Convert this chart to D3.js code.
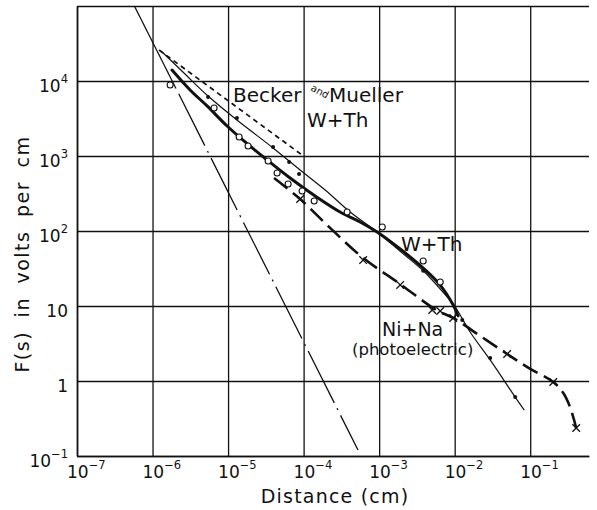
<!DOCTYPE html>
<html>
<head>
<meta charset="utf-8">
<script src="https://cdn.jsdelivr.net/npm/d3@7"></script>
<style>
  body { margin: 0; background: #fff; }
  svg { display: block; }
</style>
</head>
<body>
<svg id="chart"></svg>
<script>
/* F(s) versus distance, log-log, redrawn with d3. */
var xTicks = [1e-7, 1e-6, 1e-5, 1e-4, 1e-3, 1e-2, 1e-1];
var xTickExp = ["\u22127", "\u22126", "\u22125", "\u22124", "\u22123", "\u22122", "\u22121"];
var yTicks = [0.1, 1, 10, 100, 1e3, 1e4, 1e5];
var yTickBase = ["10", "1", "10", "10", "10", "10", ""];
var yTickExp = ["\u22121", "", "", "2", "3", "4", ""];

// steep image-force line (solid start, then dash-dot)
var imageS = [5.75e-7, 1.99e-6, 5.25e-4];
var imageF = [1e5, 8400, 0.12];

// heavy solid curve, W+Th
var thickS = [1.81e-6, 3.14e-6, 5.27e-6, 9.7e-6, 1.68e-5, 3.29e-5, 6.62e-5, 1.42e-4, 3.04e-4, 5.6e-4, 9.4e-4, 1.9e-3, 3.83e-3, 6.43e-3, 9.55e-3, 1.11e-2];
var thickF = [14000, 7590, 4650, 2510, 1540, 885, 509, 293, 179, 132, 97, 57.5, 32, 19, 10.3, 7.4];

// thin solid curve with small filled points
var thinS = [1.34e-6, 2.69e-6, 5.43e-6, 1.31e-5, 3.94e-5, 8.99e-5, 1.93e-4, 4.13e-4, 9.4e-4, 1.9e-3, 3.83e-3, 7.48e-3, 1e-2, 1.6e-2, 2.95e-2, 6.32e-2, 8.34e-2];
var thinF = [24400, 12400, 6310, 3020, 1280, 650, 352, 179, 97, 53.5, 29.5, 14.2, 10, 4.5, 1.91, 0.61, 0.41];
var dotS = [5.43e-6, 1.31e-5, 3.94e-5, 6.43e-5, 8.7e-5, 3.83e-3, 1.26e-2, 2.95e-2, 6.32e-2];
var dotF = [6120, 3210, 1320, 832, 575, 29.5, 6.5, 2.03, 0.61];

// Becker and Mueller, W+Th (short dashes)
var beckerS = [1.22e-6, 9.55e-5];
var beckerF = [25900, 1030];

// open circles, W+Th measurements
var circleS = [1.71e-6, 6.53e-6, 1.4e-5, 1.84e-5, 3.39e-5, 4.46e-5, 6.24e-5, 9.55e-5, 1.38e-4, 3.77e-4, 1.1e-3, 3.83e-3, 6.43e-3];
var circleF = [8850, 4370, 1790, 1360, 858, 593, 424, 341, 251, 179, 113, 39.8, 20.9];

// Ni+Na (photoelectric), heavy dashes and crosses
var niS = [4.06e-5, 8.99e-5, 2.24e-4, 6.14e-4, 1.9e-3, 5.69e-3, 9.55e-3, 2.18e-2, 4.95e-2, 0.1, 0.202, 0.274, 0.339, 0.406];
var niF = [509, 267, 110, 43.7, 19.6, 8.85, 6.92, 3.98, 2.29, 1.45, 0.97, 0.69, 0.44, 0.236];
var crossS = [8.99e-5, 6.14e-4, 1.9e-3, 5.04e-3, 6.43e-3, 9.55e-3, 4.95e-2, 0.202, 0.406];
var crossF = [267, 41, 19.1, 8.85, 8.58, 6.92, 2.29, 0.97, 0.236];

var W = 597, H = 510;
var ink = "#111";

var x = d3.scaleLog().domain([1e-7, 0.6]).range([77, 589]);
var y = d3.scaleLog().domain([0.1, 1e5]).range([456, 6]);

var svg = d3.select("#chart").attr("width", W).attr("height", H)
  .attr("viewBox", [0, 0, W, H]);
svg.append("rect").attr("width", W).attr("height", H).attr("fill", "#fff");

function zip(a, b) {
  return a.map(function (v, i) { return [v, b[i]]; });
}

// grid via axes
var gx = svg.append("g")
  .attr("transform", "translate(0," + y.range()[0] + ")")
  .call(d3.axisBottom(x).tickValues(xTicks).tickFormat("")
    .tickSize(-(y.range()[0] - y.range()[1])).tickSizeOuter(0));
var gy = svg.append("g")
  .attr("transform", "translate(" + x.range()[0] + ",0)")
  .call(d3.axisLeft(y).tickValues(yTicks).tickFormat("")
    .tickSize(-(x.range()[1] - x.range()[0])).tickSizeOuter(0));
[gx, gy].forEach(function (g) {
  g.selectAll("line").attr("stroke", ink).attr("stroke-width", 1.3);
  g.select(".domain").attr("stroke", ink).attr("stroke-width", 1.6);
});

var labelFont = "'DejaVu Sans', sans-serif";

// x tick labels
var xl = svg.append("g").attr("font-family", labelFont).attr("fill", ink);
xTicks.forEach(function (t, i) {
  var tx = xl.append("text").attr("x", x(t) - 10).attr("y", 478)
    .attr("font-size", 17);
  tx.append("tspan").text("10");
  tx.append("tspan").attr("dy", -9).attr("font-size", 11.5).text(xTickExp[i]);
});

// y tick labels
var yl = svg.append("g").attr("font-family", labelFont).attr("fill", ink);
yTicks.forEach(function (t, i) {
  if (!yTickBase[i]) return;
  var tx = yl.append("text").attr("x", 68).attr("y", y(t) + 11)
    .attr("text-anchor", "end").attr("font-size", 17);
  tx.append("tspan").text(yTickBase[i]);
  if (yTickExp[i]) {
    tx.append("tspan").attr("dy", -9).attr("font-size", 11.5).text(yTickExp[i]);
  }
});

// axis titles
svg.append("text")
  .attr("x", 335).attr("y", 503)
  .attr("text-anchor", "middle")
  .attr("font-family", labelFont).attr("font-size", 19)
  .attr("letter-spacing", 1.2).attr("fill", ink)
  .text("Distance (cm)");
svg.append("text")
  .attr("transform", "translate(29,254) rotate(-90)")
  .attr("text-anchor", "middle")
  .attr("font-family", labelFont).attr("font-size", 19)
  .attr("letter-spacing", 1.5).attr("word-spacing", 6).attr("fill", ink)
  .text("F(s) in volts per cm");

var line = d3.line()
  .x(function (d) { return x(d[0]); })
  .y(function (d) { return y(d[1]); });
var smooth = d3.line()
  .x(function (d) { return x(d[0]); })
  .y(function (d) { return y(d[1]); })
  .curve(d3.curveCatmullRom.alpha(0.5));

var plot = svg.append("g").attr("fill", "none").attr("stroke", ink);

var img = zip(imageS, imageF);
plot.append("path").attr("d", line(img.slice(0, 2))).attr("stroke-width", 1.3);
plot.append("path").attr("d", line(img.slice(1)))
  .attr("stroke-width", 1.3).attr("stroke-dasharray", "58,6,2,6")
  .attr("stroke-dashoffset", -8);

plot.append("path").attr("d", line(zip(beckerS, beckerF)))
  .attr("stroke-width", 1.7).attr("stroke-dasharray", "5,4");

plot.append("path").attr("d", smooth(zip(thinS, thinF))).attr("stroke-width", 1.2);

plot.append("path").attr("d", smooth(zip(thickS, thickF)))
  .attr("stroke-width", 3).attr("stroke-linecap", "round");

plot.append("path").attr("d", smooth(zip(niS, niF)))
  .attr("stroke-width", 2.6).attr("stroke-dasharray", "17,7");

// markers
svg.append("g").selectAll("circle.dot")
  .data(zip(dotS, dotF)).join("circle")
  .attr("cx", function (d) { return x(d[0]); })
  .attr("cy", function (d) { return y(d[1]); })
  .attr("r", 2).attr("fill", ink);

svg.append("g").selectAll("circle.open")
  .data(zip(circleS, circleF)).join("circle")
  .attr("cx", function (d) { return x(d[0]); })
  .attr("cy", function (d) { return y(d[1]); })
  .attr("r", 3).attr("fill", "#fff").attr("stroke", ink).attr("stroke-width", 1.1);

svg.append("g").selectAll("path.cross")
  .data(zip(crossS, crossF)).join("path")
  .attr("d", function (d) {
    var cx = x(d[0]), cy = y(d[1]), r = 3.8;
    return "M" + (cx - r) + "," + (cy - r) + "L" + (cx + r) + "," + (cy + r) +
      "M" + (cx - r) + "," + (cy + r) + "L" + (cx + r) + "," + (cy - r);
  })
  .attr("stroke", ink).attr("stroke-width", 1.3).attr("fill", "none");

// annotations
var notes = svg.append("g").attr("font-family", labelFont).attr("fill", ink);
notes.append("text").attr("x", 233).attr("y", 102).attr("font-size", 20).text("Becker");
notes.append("text").attr("transform", "translate(310,90) rotate(28)")
  .attr("font-size", 10).text("and");
notes.append("text").attr("x", 329).attr("y", 102).attr("font-size", 20).text("Mueller");
notes.append("text").attr("x", 307).attr("y", 127).attr("font-size", 20).text("W+Th");
notes.append("text").attr("x", 401).attr("y", 251).attr("font-size", 20).text("W+Th");
notes.append("text").attr("x", 382).attr("y", 336).attr("font-size", 19).text("Ni+Na");
notes.append("text").attr("x", 352).attr("y", 355).attr("font-size", 16.5).text("(photoelectric)");
</script>
</body>
</html>
